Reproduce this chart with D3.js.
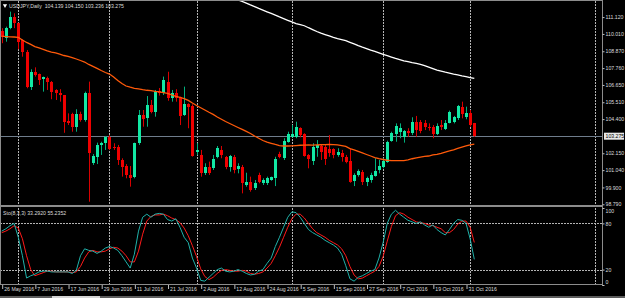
<!DOCTYPE html>
<html>
<head>
<meta charset="utf-8">
<script src="https://cdn.jsdelivr.net/npm/d3@7"></script>
<style>
html, body { margin: 0; padding: 0; background: #000; }
svg { display: block; }
text { font-family: "Liberation Sans", Arial, sans-serif; }
</style>
</head>
<body>
<div id="container"></div>
<script>
// USDJPY daily, 26 May 2016 .. 2 Nov 2016 (bar 0 = 26 May)

const opens = [110.23,109.73,110.39,111.15,110.71,109.61,108.84,106.50,107.53,107.37,
  107.02,107.13,106.87,106.32,106.10,105.99,104.28,104.72,103.86,104.74,
  104.34,106.14,101.49,101.93,102.70,102.81,103.24,102.58,102.54,101.71,
  101.31,100.72,100.61,102.81,104.67,104.45,105.33,104.90,106.25,106.10,
  106.87,105.77,106.10,105.84,104.67,105.38,105.27,102.25,102.04,100.83,
  101.27,101.16,101.93,102.37,101.93,101.27,101.93,101.10,101.27,100.06,
  100.28,99.84,100.72,100.19,100.17,100.39,100.50,102.10,101.82,102.91,
  103.24,103.24,103.80,103.42,102.04,101.66,102.48,102.63,102.58,102.41,
  102.41,102.04,102.15,101.92,101.66,100.34,100.72,100.94,100.28,100.39,
  100.65,101.05,101.23,101.60,102.98,103.42,103.57,103.20,103.64,103.47,
  104.19,104.19,104.12,103.90,103.90,103.42,104.01,103.77,104.16,104.23,
  104.45,105.22,104.52,104.78,104.139];
const highs = [110.39,110.49,111.48,111.37,110.75,109.66,108.95,107.68,107.81,107.40,
  107.20,107.20,106.91,106.37,106.37,105.99,104.78,104.82,105.05,104.89,
  106.21,106.87,102.10,102.85,102.91,103.29,103.35,102.81,102.70,101.82,
  101.44,101.31,102.85,105.00,105.00,105.92,105.66,106.32,106.45,107.20,
  107.52,106.32,106.37,105.88,106.54,105.44,105.38,102.81,102.37,101.49,
  101.60,102.04,102.63,102.63,101.97,102.04,102.04,101.49,101.38,100.87,
  100.61,100.39,100.87,100.50,100.61,100.61,101.92,102.25,103.14,103.57,
  104.01,104.23,103.86,103.47,102.10,102.81,103.02,102.70,102.70,103.35,
  102.48,102.48,102.37,102.04,102.48,100.83,101.09,101.05,100.61,100.87,
  101.82,101.71,101.82,102.98,103.57,104.12,104.12,103.68,103.80,104.52,
  104.61,104.34,104.34,104.12,104.01,104.12,104.34,104.34,104.96,104.61,
  105.33,105.55,105.22,105.00,104.150];
const lows = [109.40,109.50,110.32,110.39,109.00,108.51,106.43,106.32,107.20,106.65,
  106.21,106.32,105.71,105.66,105.55,103.50,104.01,103.57,103.57,104.23,
  104.23,98.96,101.38,101.44,102.04,102.37,102.37,102.37,101.38,100.61,
  100.50,99.95,100.50,102.70,103.90,103.90,104.78,104.56,105.95,105.99,
  105.61,105.55,105.55,104.01,104.61,103.80,101.93,102.04,100.61,100.72,
  100.72,101.05,101.82,101.82,101.10,100.94,100.83,100.83,99.51,99.95,
  99.62,99.73,100.17,100.06,100.06,100.34,99.99,101.82,101.71,102.85,
  103.20,103.14,103.20,101.93,101.16,101.38,101.92,101.71,101.38,101.92,
  101.82,101.92,101.60,101.49,100.21,99.99,100.61,100.06,99.99,100.21,
  100.61,100.83,101.16,101.53,102.91,102.91,103.14,102.85,103.24,103.35,
  103.24,103.47,103.68,103.64,103.14,103.35,103.68,103.68,104.12,104.12,
  104.34,104.45,104.39,103.90,103.236];
const closes = [109.79,110.39,111.11,110.71,109.50,108.84,106.50,107.53,107.31,106.98,
  107.16,106.87,106.21,106.10,105.99,104.23,104.12,103.86,104.74,104.34,
  106.14,102.15,101.97,102.70,102.81,103.20,102.41,102.48,101.71,101.27,
  100.72,100.50,102.81,104.67,104.39,105.33,104.89,106.21,106.10,106.98,
  105.77,106.14,105.77,104.61,105.40,105.22,101.97,102.37,100.83,101.27,
  100.83,101.75,102.48,102.04,101.23,101.97,101.05,101.31,100.21,100.28,
  99.73,100.21,100.28,100.39,100.50,100.57,101.75,101.88,102.98,103.42,
  103.42,103.90,103.35,101.97,101.75,102.58,102.70,102.25,101.75,102.15,
  102.04,102.25,101.88,101.60,100.28,100.72,101.00,100.28,100.50,100.72,
  100.98,101.31,101.66,102.91,103.51,103.95,103.80,103.64,103.47,104.19,
  103.68,103.64,103.86,103.80,103.42,103.95,103.86,104.16,104.89,104.52,
  105.27,104.74,104.78,104.01,103.275];

// orange moving average, one value per bar
const maOrange = [109.86,109.84,109.82,109.81,109.78,109.61,109.45,109.32,109.18,109.09,
  108.99,108.89,108.82,108.76,108.68,108.59,108.53,108.45,108.36,108.26,
  108.16,108.00,107.87,107.74,107.60,107.47,107.37,107.18,106.95,106.75,
  106.58,106.50,106.43,106.39,106.34,106.30,106.27,106.23,106.20,106.15,
  106.09,105.99,105.90,105.83,105.75,105.63,105.46,105.30,105.15,105.00,
  104.85,104.71,104.54,104.39,104.24,104.11,103.98,103.85,103.72,103.59,
  103.45,103.29,103.14,102.99,102.89,102.81,102.73,102.66,102.63,102.63,
  102.64,102.66,102.68,102.69,102.70,102.69,102.70,102.71,102.72,102.73,
  102.72,102.71,102.66,102.60,102.46,102.37,102.27,102.17,102.07,101.97,
  101.87,101.79,101.74,101.69,101.66,101.66,101.66,101.67,101.72,101.79,
  101.85,101.90,101.94,101.97,102.04,102.08,102.15,102.23,102.30,102.38,
  102.48,102.56,102.64,102.70,102.76];

// white moving average, visible from bar 56 on
const maWhiteStart = 56;
const maWhite = [112.37,112.25,112.15,112.04,111.92,111.81,111.69,111.58,111.47,111.36,
  111.25,111.13,111.02,110.91,110.80,110.69,110.63,110.55,110.42,110.30,
  110.17,110.06,109.97,109.88,109.78,109.70,109.64,109.57,109.46,109.35,
  109.24,109.14,109.05,108.95,108.86,108.76,108.66,108.58,108.49,108.40,
  108.32,108.24,108.18,108.12,108.07,108.01,107.92,107.82,107.72,107.62,
  107.56,107.49,107.43,107.36,107.31,107.25,107.20,107.14,107.08];

// Stochastic (8,3,3)
const stoMain = [70,73,77,80,62,38,9,12,14,17,
  18,18,17,17,17,17,17,15,19,38,
  47,45,44,41,44,48,50,48,45,38,
  30,22,40,70,88,92,88,92,93,92,
  85,83,86,75,62,55,35,22,6,5,
  10,15,20,22,18,17,18,20,18,15,
  13,14,18,20,28,35,50,62,75,88,
  95,94,88,80,72,68,65,62,58,55,
  52,48,40,25,8,5,10,12,15,18,
  20,35,55,80,92,97,92,88,84,82,
  80,82,78,75,78,72,68,65,72,80,
  85,84,80,60,33.29];
const stoSignal = [68,70,73,77,74,60,38,20,12,14,
  16,18,18,17,17,17,17,16,17,24,
  35,43,45,43,43,44,47,49,48,44,
  38,30,30,44,66,83,89,91,91,92,
  90,87,85,81,74,64,51,37,21,11,
  7,10,15,19,20,19,18,18,19,18,
  15,14,15,17,22,28,38,49,62,75,
  86,92,92,87,80,73,68,65,62,58,
  55,52,47,38,24,13,8,9,12,15,
  18,24,37,57,76,90,94,92,88,85,
  82,81,80,78,77,75,73,68,68,72,
  79,83,83,75,55.24];

const priceTicks = [111.120,110.010,108.870,107.760,106.650,105.510,104.400,102.150,101.040,99.900,98.790];
const lastPrice = 103.275;
const stoTicks = [100, 80, 20, 0];
const stoLevels = [80, 20];
const dateTickBars = [0,8,16,24,32,40,48,56,64,72,80,88,96,104,112];
const dateTickLabels = ["26 May 2016","7 Jun 2016","17 Jun 2016","29 Jun 2016","11 Jul 2016",
  "21 Jul 2016","2 Aug 2016","12 Aug 2016","24 Aug 2016","5 Sep 2016","15 Sep 2016",
  "27 Sep 2016","7 Oct 2016","19 Oct 2016","31 Oct 2016"];
const gridBars = [4,26,47,70,92,113,143];
const headerText = "USDJPY,Daily  104.139 104.150 103.236 103.275";
const stoText = "Sto(8,3,3) 33.2920 55.2352";

const width = 625, height = 298;
const plotRight = 602;
const mainTop = 1, mainBottom = 205;
const stoTop = 208, stoBottom = 285;
const textColor = "#dcdcdc";

const svg = d3.select("#container").append("svg")
    .attr("width", width)
    .attr("height", height)
    .style("background", "#000");

const x = d3.scaleLinear().domain([0, 144.8]).range([1.7, 602]);
const y = d3.scaleLinear().domain([98.743, 112.18]).range([mainBottom, mainTop]);
const ys = d3.scaleLinear().domain([0, 100]).range([stoBottom, stoTop]);

const defs = svg.append("defs");
defs.append("clipPath").attr("id", "clipMain")
  .append("rect").attr("x", 0).attr("y", mainTop).attr("width", plotRight).attr("height", mainBottom - mainTop);
defs.append("clipPath").attr("id", "clipSto")
  .append("rect").attr("x", 0).attr("y", stoTop).attr("width", plotRight).attr("height", stoBottom - stoTop);

// vertical grid (month starts)
const grid = svg.append("g")
    .attr("stroke", "#b4b4b4")
    .attr("stroke-width", 1)
    .attr("stroke-dasharray", "2,1");
gridBars.forEach(function(b){
    const gx = Math.round(x(b)) + 0.5;
    grid.append("line").attr("x1", gx).attr("x2", gx).attr("y1", mainTop).attr("y2", mainBottom);
    grid.append("line").attr("x1", gx).attr("x2", gx).attr("y1", stoTop).attr("y2", stoBottom);
});

// stochastic levels
svg.append("g").selectAll("line")
  .data(stoLevels).enter().append("line")
    .attr("x1", 0).attr("x2", plotRight)
    .attr("y1", d => Math.round(ys(d)) + 0.5)
    .attr("y2", d => Math.round(ys(d)) + 0.5)
    .attr("stroke", "#b4b4b4")
    .attr("stroke-dasharray", "2,1");

// last price line
svg.append("line")
    .attr("x1", 0).attr("x2", plotRight)
    .attr("y1", Math.round(y(lastPrice)) + 0.5)
    .attr("y2", Math.round(y(lastPrice)) + 0.5)
    .attr("stroke", "#6f7d8c")
    .attr("stroke-width", 1);

// candles
const main = svg.append("g").attr("clip-path", "url(#clipMain)");
const bars = d3.range(opens.length);
const up = i => closes[i] >= opens[i];

main.append("g").selectAll("line")
  .data(bars).enter().append("line")
    .attr("x1", i => Math.round(x(i)) + 0.5)
    .attr("x2", i => Math.round(x(i)) + 0.5)
    .attr("y1", i => y(highs[i]))
    .attr("y2", i => y(lows[i]))
    .attr("stroke", i => up(i) ? "#00b07c" : "#d80000")
    .attr("stroke-width", 1);

main.append("g").selectAll("rect")
  .data(bars).enter().append("rect")
    .attr("x", i => Math.round(x(i)) - 1)
    .attr("width", 3)
    .attr("y", i => y(Math.max(opens[i], closes[i])))
    .attr("height", i => Math.max(1, Math.abs(y(opens[i]) - y(closes[i]))))
    .attr("fill", i => up(i) ? "#12e8a4" : "#f00000")
    .attr("shape-rendering", "crispEdges");

// moving averages
const maLine = d3.line().x(d => x(d[0])).y(d => y(d[1]));
main.append("path")
    .attr("d", maLine(maOrange.map((v, i) => [i, v])))
    .attr("fill", "none")
    .attr("stroke", "#ff5a0a")
    .attr("stroke-width", 1.3);
main.append("path")
    .attr("d", maLine(maWhite.map((v, i) => [i + maWhiteStart, v])))
    .attr("fill", "none")
    .attr("stroke", "#ffffff")
    .attr("stroke-width", 1.3);

// stochastic lines
const sto = svg.append("g").attr("clip-path", "url(#clipSto)");
const stoLine = d3.line().x((d, i) => x(i)).y(d => ys(d));
sto.append("path")
    .attr("d", stoLine(stoSignal))
    .attr("fill", "none")
    .attr("stroke", "#ff1a1a")
    .attr("stroke-width", 1);
sto.append("path")
    .attr("d", stoLine(stoMain))
    .attr("fill", "none")
    .attr("stroke", "#20b2aa")
    .attr("stroke-width", 1);

// frames
const frame = svg.append("g").attr("stroke", "#8c8c8c").attr("fill", "none");
frame.append("line").attr("x1", 0).attr("x2", plotRight).attr("y1", 0.5).attr("y2", 0.5);
frame.append("line").attr("x1", 0.5).attr("x2", 0.5).attr("y1", 0).attr("y2", stoBottom);
frame.append("line").attr("x1", plotRight + 0.5).attr("x2", plotRight + 0.5).attr("y1", 0).attr("y2", stoBottom + 1);
frame.append("rect").attr("x", 0).attr("y", mainBottom).attr("width", plotRight).attr("height", 2)
    .attr("fill", "#8c8c8c").attr("stroke", "none");
frame.append("line").attr("x1", 0).attr("x2", plotRight + 1).attr("y1", stoBottom - 0.5).attr("y2", stoBottom - 0.5);

// price axis
const priceAxis = d3.axisRight(y)
    .tickValues(priceTicks)
    .tickFormat(d3.format(".3f"))
    .tickSize(2)
    .tickPadding(1);
const pa = svg.append("g")
    .attr("transform", "translate(" + (plotRight + 0.5) + ",0)")
    .call(priceAxis);
pa.select(".domain").remove();
pa.selectAll("line").attr("stroke", "#bdbdbd");
pa.selectAll("text").attr("fill", textColor).attr("font-size", "5.2px").attr("font-family", "Liberation Sans, Arial, sans-serif");

// last price marker
const lp = svg.append("g").attr("transform", "translate(" + (plotRight + 1) + "," + y(lastPrice) + ")");
lp.append("rect").attr("x", 1).attr("y", -3.5).attr("width", 20).attr("height", 7).attr("fill", "#e8e8e8");
lp.append("text").attr("x", 2.5).attr("y", 2).attr("fill", "#000")
    .attr("font-size", "5.2px").text(d3.format(".3f")(lastPrice));

// stochastic axis
const stoAxis = d3.axisRight(ys)
    .tickValues(stoTicks)
    .tickFormat(d3.format("d"))
    .tickSize(2)
    .tickPadding(1);
const sa = svg.append("g")
    .attr("transform", "translate(" + (plotRight + 0.5) + ",0)")
    .call(stoAxis);
sa.select(".domain").remove();
sa.selectAll("line").attr("stroke", "#bdbdbd");
sa.selectAll("text").attr("fill", textColor).attr("font-size", "5.2px")
    .attr("font-family", "Liberation Sans, Arial, sans-serif")
    .attr("dy", d => d === 100 ? "0.9em" : (d === 0 ? "-0.2em" : "0.32em"));

// date axis
const dateAxis = d3.axisBottom(x)
    .tickValues(dateTickBars)
    .tickFormat((d, i) => dateTickLabels[i])
    .tickSize(4)
    .tickPadding(0);
const da = svg.append("g")
    .attr("transform", "translate(0," + stoBottom + ")")
    .call(dateAxis);
da.select(".domain").remove();
da.selectAll("line").attr("stroke", "#bdbdbd").attr("transform", "translate(0.5,0)");
da.selectAll("text")
    .attr("fill", textColor)
    .attr("font-size", "5.2px")
    .attr("font-family", "Liberation Sans, Arial, sans-serif")
    .attr("text-anchor", "start")
    .attr("x", 2)
    .attr("y", 2.5)
    .attr("dy", "0.71em");

// bottom strip
svg.append("rect").attr("x", 0).attr("y", 296).attr("width", width).attr("height", 2).attr("fill", "#5c5c5c");
svg.append("rect").attr("x", 52).attr("y", 296).attr("width", 48).attr("height", 2).attr("fill", "#d4d4d4");

// header labels
svg.append("path")
    .attr("d", d3.symbol().type(d3.symbolTriangle).size(8)())
    .attr("transform", "translate(5,5.5) rotate(180)")
    .attr("fill", "#fff");
svg.append("text").attr("x", 9).attr("y", 7.8).attr("fill", textColor)
    .attr("font-size", "5.2px").attr("xml:space", "preserve").text(headerText);
svg.append("text").attr("x", 3).attr("y", 214.5).attr("fill", textColor)
    .attr("font-size", "5.2px").text(stoText);
</script>
</body>
</html>
